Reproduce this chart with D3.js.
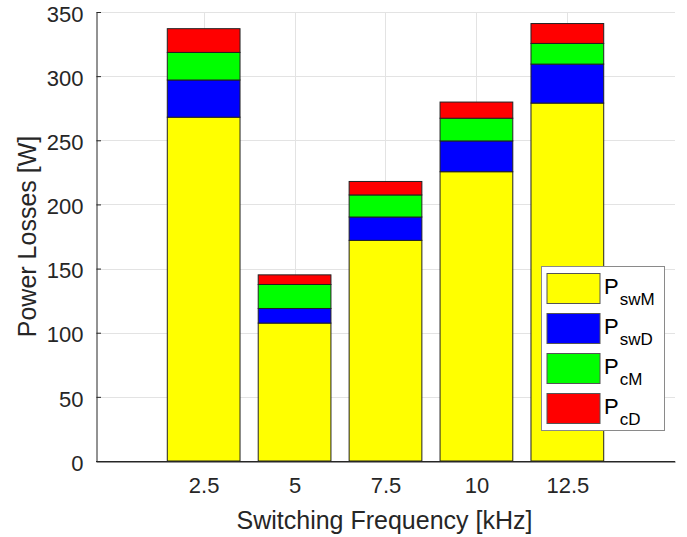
<!DOCTYPE html>
<html>
<head>
<meta charset="utf-8">
<script src="https://cdn.jsdelivr.net/npm/d3@7/dist/d3.min.js"></script>
<style>
  html, body { margin: 0; padding: 0; background: #fff; }
  svg { display: block; font-family: "Liberation Sans", Arial, Helvetica, sans-serif; }
</style>
</head>
<body>
<svg id="chart" width="687" height="537"></svg>
<script>
// Switching frequencies (kHz) and stacked loss components (W)
const frequencies = [2.5, 5, 7.5, 10, 12.5];
const PswM = [268, 107.5, 172, 225.5, 279];
const PswD = [29, 11.4, 18.2, 24, 30.4];
const PcM  = [21.5, 18.7, 17.2, 17.7, 16.1];
const PcD  = [18.5, 7.5, 10.5, 12.6, 15.5];
const seriesNames = ["swM", "swD", "cM", "cD"];
const seriesColors = ["#ffff00", "#0000ff", "#00ff00", "#ff0000"];
const yTicks = [0, 50, 100, 150, 200, 250, 300, 350];
const xTicks = frequencies;

(function draw() {
  const rows = frequencies.map((f, i) => ({ f, swM: PswM[i], swD: PswD[i], cM: PcM[i], cD: PcD[i] }));
  const stacked = d3.stack().keys(seriesNames)(rows);

  const svg = d3.select("#chart");
  const m = { left: 96, right: 675, top: 12, bottom: 461 };
  const axisColor = "#262626";
  const fontFam = "Liberation Sans, Arial, sans-serif";

  const x = d3.scaleLinear().domain([-0.46, 15.46]).range([m.left, m.right]);
  const y = d3.scaleLinear().domain([0, 350]).range([m.bottom, m.top]);
  const barW = x(2) - x(0);

  // grid
  const grid = svg.append("g").attr("stroke", "#e3e3e3").attr("stroke-width", 1);
  grid.selectAll("line.h").data(yTicks.filter(t => t > 0)).join("line").attr("class", "h")
    .attr("x1", m.left).attr("x2", m.right)
    .attr("y1", d => Math.round(y(d)) + 0.5).attr("y2", d => Math.round(y(d)) + 0.5);
  grid.selectAll("line.v").data(xTicks).join("line").attr("class", "v")
    .attr("y1", m.top).attr("y2", m.bottom)
    .attr("x1", d => Math.round(x(d)) + 0.5).attr("x2", d => Math.round(x(d)) + 0.5);

  // axes (ticks inward)
  const yAxis = d3.axisLeft(y).tickValues(yTicks).tickSizeInner(-4.5).tickSizeOuter(0).tickPadding(13).tickFormat(d3.format("d"));
  const gy = svg.append("g").attr("transform", `translate(${m.left + 0.5},0)`).call(yAxis);
  gy.select(".domain").attr("stroke", axisColor);
  gy.selectAll(".tick line").attr("stroke", axisColor);
  gy.selectAll(".tick text").attr("fill", axisColor).attr("font-size", 22).attr("font-family", fontFam).attr("dy", "0.42em");

  const xAxis = d3.axisBottom(x).tickValues(xTicks).tickSizeInner(-4.5).tickSizeOuter(0).tickPadding(16).tickFormat(d => String(d));
  const gx = svg.append("g").attr("transform", `translate(0,${m.bottom + 0.5})`).call(xAxis);
  gx.select(".domain").attr("stroke", axisColor);
  gx.selectAll(".tick line").attr("stroke", axisColor);
  gx.selectAll(".tick text").attr("fill", axisColor).attr("font-size", 22).attr("font-family", fontFam);

  // stacked bars
  const bars = svg.append("g");
  stacked.forEach((layer, k) => {
    bars.append("g").attr("fill", seriesColors[k]).attr("stroke", "#222").attr("stroke-width", 1)
      .selectAll("rect").data(layer).join("rect")
      .attr("x", d => x(d.data.f) - barW / 2)
      .attr("width", barW)
      .attr("y", d => y(d[1]))
      .attr("height", d => y(d[0]) - y(d[1]));
  });

  // redraw baseline over bars
  svg.append("line").attr("x1", m.left).attr("x2", m.right)
    .attr("y1", m.bottom + 0.5).attr("y2", m.bottom + 0.5).attr("stroke", axisColor);

  // axis titles
  svg.append("text").attr("x", (m.left + m.right) / 2 - 1).attr("y", 529)
    .attr("text-anchor", "middle").attr("font-size", 25).attr("fill", axisColor)
    .text("Switching Frequency [kHz]");
  svg.append("text").attr("transform", `translate(36,${(m.top + m.bottom) / 2}) rotate(-90)`)
    .attr("text-anchor", "middle").attr("font-size", 25).attr("fill", axisColor)
    .text("Power Losses [W]");

  // legend
  const lg = svg.append("g");
  lg.append("rect").attr("x", 541.5).attr("y", 266.5).attr("width", 123).attr("height", 164)
    .attr("fill", "#fff").attr("stroke", "#8a8a8a").attr("stroke-width", 1);
  seriesNames.forEach((name, k) => {
    const yy = 273.5 + k * 40;
    lg.append("rect").attr("x", 547).attr("y", yy).attr("width", 53).attr("height", 30)
      .attr("fill", seriesColors[k]).attr("stroke", "#555").attr("stroke-width", 1);
    const t = lg.append("text").attr("x", 604).attr("y", yy + 20).attr("fill", "#000").attr("font-size", 22);
    t.append("tspan").text("P");
    t.append("tspan").attr("font-size", 17).attr("dy", 11).attr("dx", 1).text(name);
  });
})();
</script>
</body>
</html>
